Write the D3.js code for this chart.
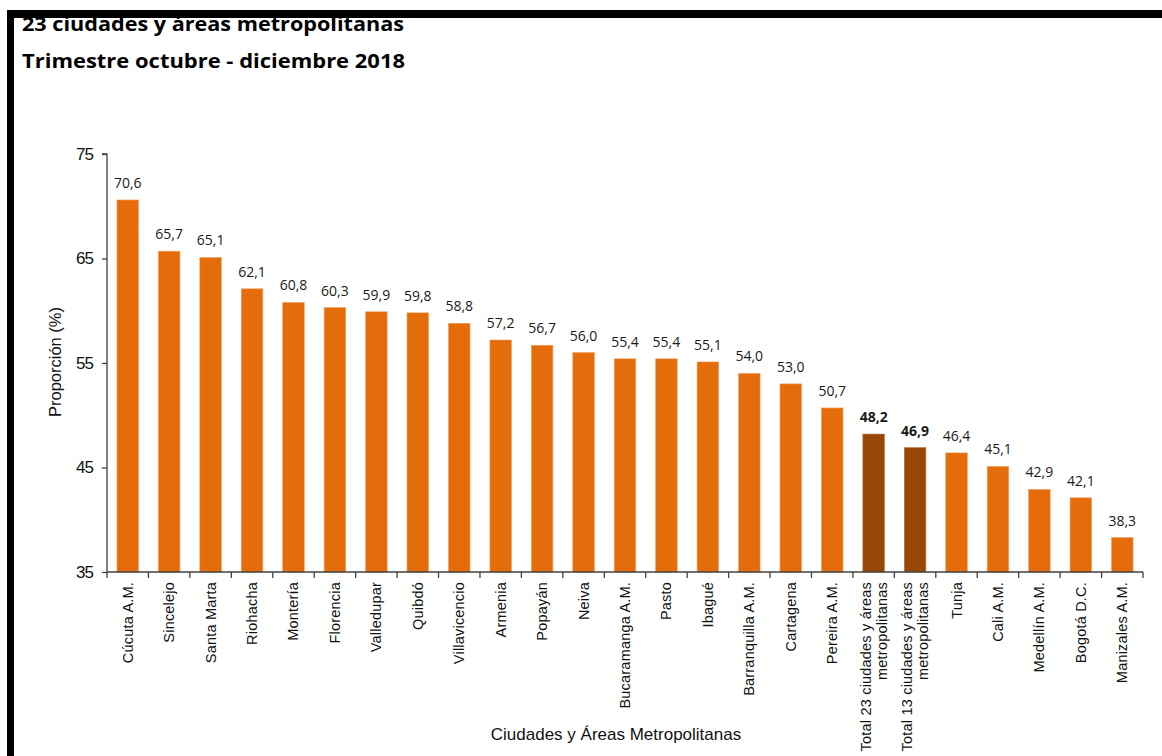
<!DOCTYPE html>
<html><head><meta charset="utf-8">
<script src="https://cdn.jsdelivr.net/npm/d3@7"></script>
<style>body{margin:0;background:#fff}svg{display:block}</style>
</head><body>
<svg id="c" width="1162" height="756"></svg>
<script>
const categories = ["Cúcuta A.M.","Sincelejo","Santa Marta","Riohacha","Montería","Florencia","Valledupar","Quibdó","Villavicencio","Armenia","Popayán","Neiva","Bucaramanga A.M.","Pasto","Ibagué","Barranquilla A.M.","Cartagena","Pereira A.M.","Total 23 ciudades y áreas|metropolitanas","Total 13 ciudades y áreas|metropolitanas","Tunja","Cali A.M.","Medellín A.M.","Bogotá D.C.","Manizales A.M."];
const values = [70.6,65.7,65.1,62.1,60.8,60.3,59.9,59.8,58.8,57.2,56.7,56.0,55.4,55.4,55.1,54.0,53.0,50.7,48.2,46.9,46.4,45.1,42.9,42.1,38.3];
const totalFlags = [0,0,0,0,0,0,0,0,0,0,0,0,0,0,0,0,0,0,1,1,0,0,0,0,0];
const yTicks = [35,45,55,65,75];
const titleLines = ["23 ciudades y áreas metropolitanas","Trimestre octubre - diciembre 2018"];

const svg = d3.select("#c");
const x = d3.scaleBand().domain(categories).range([107,1143]).paddingInner(0.48).paddingOuter(0.24);
const y = d3.scaleLinear().domain([35,75]).range([572,154]);

// titles
svg.append("text").attr("x",22).attr("y",31).text(titleLines[0])
  .attr("textLength",382).attr("lengthAdjust","spacingAndGlyphs")
  .attr("font-family","'Open Sans', Lato, sans-serif").attr("font-weight","bold").attr("font-size",20).attr("fill","#000");
svg.append("text").attr("x",22).attr("y",68).text(titleLines[1])
  .attr("textLength",383).attr("lengthAdjust","spacingAndGlyphs")
  .attr("font-family","'Open Sans', Lato, sans-serif").attr("font-weight","bold").attr("font-size",20).attr("fill","#000");

// frame
svg.append("rect").attr("x",7).attr("y",10).attr("width",1155).attr("height",8).attr("fill","#000");
svg.append("rect").attr("x",7).attr("y",10).attr("width",7).attr("height",746).attr("fill","#000");

// bars
svg.append("g").selectAll("rect").data(values).join("rect")
  .attr("x",(d,i)=>x(categories[i])).attr("width",x.bandwidth())
  .attr("y",d=>y(d)).attr("height",d=>y(35)-y(d))
  .attr("fill",(d,i)=>totalFlags[i]?"#974806":"#E46C0A")
  .attr("stroke",(d,i)=>totalFlags[i]?"#b8703a":"#f0a060").attr("stroke-width",0.6);

// value labels
svg.append("g").selectAll("text").data(values).join("text")
  .attr("x",(d,i)=>x(categories[i])+x.bandwidth()/2).attr("y",d=>y(d)-12)
  .attr("text-anchor","middle").attr("font-family","'Open Sans', Lato, sans-serif")
  .attr("font-size",14).attr("font-weight",(d,i)=>totalFlags[i]?"bold":"normal")
  .attr("fill","#1a1a1a").text(d=>d.toFixed(1).replace(".",","));

// y axis
const yAxis = d3.axisLeft(y).tickValues(yTicks).tickSize(5).tickFormat(d=>d);
const gy = svg.append("g").attr("transform","translate(107,0)").call(yAxis);
gy.select(".domain").attr("stroke","#404040").attr("stroke-width",1.3).attr("d","M-5,154H0V572");
gy.selectAll(".tick line").attr("stroke","#404040").attr("stroke-width",1.3);
gy.selectAll(".tick text").attr("font-family","'Liberation Sans', Arial, sans-serif").attr("font-size",17)
  .attr("fill","#111").attr("x",-14).attr("letter-spacing",-1);

// x axis
const gx = svg.append("g").attr("transform","translate(0,572)");
gx.append("line").attr("x1",107).attr("x2",1143).attr("y1",0).attr("y2",0).attr("stroke","#404040").attr("stroke-width",1.5);
const step = x.step();
const bounds = d3.range(categories.length+1).map(i=>107+i*step);
gx.selectAll("line.t").data(bounds).join("line").attr("class","t")
  .attr("x1",d=>d).attr("x2",d=>d).attr("y1",0).attr("y2",6).attr("stroke","#404040").attr("stroke-width",1.3);

const lab = gx.selectAll("g.lab").data(categories).join("g").attr("class","lab")
  .attr("transform",d=>`translate(${x(d)+x.bandwidth()/2},10) rotate(-90)`);
lab.each(function(d){
  const parts = d.split("|");
  const g = d3.select(this);
  parts.forEach((p,k)=>{
    const off = parts.length===1 ? 5 : (k===0 ? -3 : 13);
    g.append("text").attr("x",0).attr("y",off).attr("text-anchor","end")
      .attr("font-family","'Liberation Sans', Arial, sans-serif").attr("font-size",14.5)
      .attr("letter-spacing",0.2).attr("fill","#111").text(p);
  });
});

// axis titles
svg.append("text").attr("transform","translate(61,362) rotate(-90)").attr("text-anchor","middle")
  .attr("font-family","'Liberation Sans', Arial, sans-serif").attr("font-size",16.5).attr("fill","#111").text("Proporción (%)");
svg.append("text").attr("x",616).attr("y",740).attr("text-anchor","middle")
  .attr("font-family","'Liberation Sans', Arial, sans-serif").attr("font-size",17).attr("fill","#111").text("Ciudades y Áreas Metropolitanas");
</script>
</body></html>
